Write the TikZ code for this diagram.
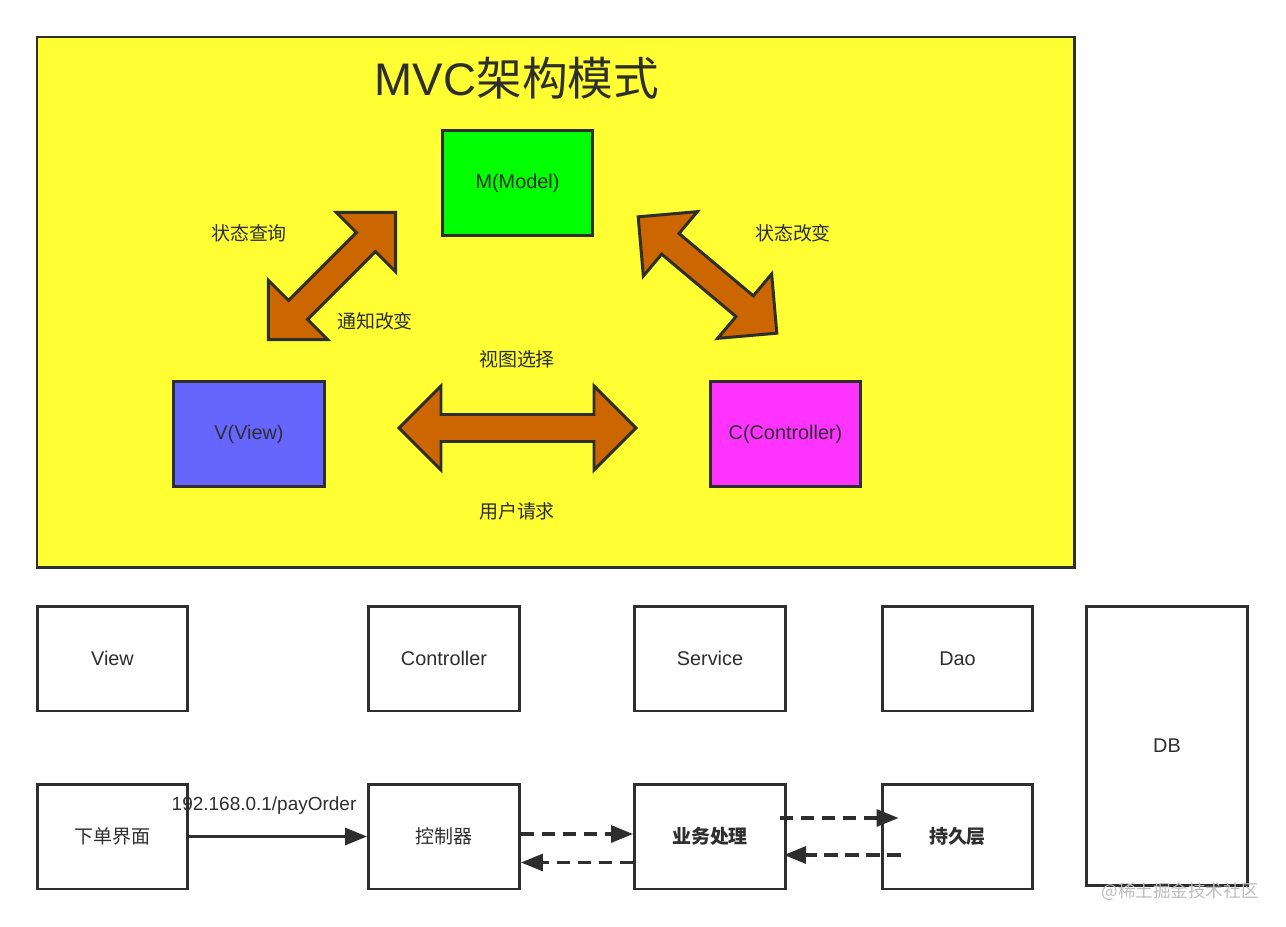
\documentclass[tikz,border=0pt]{standalone}
\usepackage{fontspec}
\setmainfont{Liberation Sans}
\newfontfamily\cjk{Noto Sans CJK SC}
\usetikzlibrary{arrows.meta}
\definecolor{mvcInk}{HTML}{2E2E2E}
\definecolor{mvcYellow}{HTML}{FFFF33}
\definecolor{mvcGreen}{HTML}{00FF00}
\definecolor{mvcBlue}{HTML}{6666FF}
\definecolor{mvcPink}{HTML}{FF33FF}
\definecolor{mvcOrange}{HTML}{CC6600}
\definecolor{mvcMark}{HTML}{BDBDBD}
\tikzset{
  every picture/.style={font=\fontsize{11.3}{13}\selectfont, text=mvcInk},
  mvc frame/.style={draw=mvcInk, line width=1.7pt, fill=mvcYellow},
  mvc box/.style={draw=mvcInk, line width=1.7pt, fill=white, align=center,
    minimum width=3.02cm, minimum height=2.1cm, inner sep=0pt},
  mvc block/.style={draw=mvcInk, line width=1.7pt, fill=mvcOrange, line join=miter},
  mvc label/.style={font=\cjk\fontsize{10.8}{13}\selectfont},
  mvc flow/.style={-{Triangle[length=4.4mm,width=3.4mm]},
    draw=mvcInk, line width=1.8pt},
  mvc call/.style={mvc flow, dash pattern=on 2.7mm off 1.5mm}
}
% double block arrow: centre, angle, half length (px)
\newcommand{\mvcDouble}[3]{%
  \begin{scope}[shift={(#1)}, rotate=#2]
    \draw[mvc block] (-#3,0) -- ({-#3+42},42) -- ({-#3+42},13.5) -- ({#3-42},13.5)
      -- ({#3-42},42) -- (#3,0) -- ({#3-42},-42) -- ({#3-42},-13.5)
      -- ({-#3+42},-13.5) -- ({-#3+42},-42) -- cycle;
  \end{scope}}

\begin{document}
\begin{tikzpicture}[x=0.02cm,y=-0.02cm]
  \useasboundingbox (0,0) rectangle (1286,927);
  % MVC pattern
  \draw[mvc frame] (37,37) rectangle (1074,567);
  \node[font=\fontsize{26}{30}\selectfont] (title) at (517,78) {MVC{\cjk 架构模式}};
  \node[mvc box, fill=mvcGreen] (model) at (517.5,183) {M(Model)};
  \node[mvc box, fill=mvcBlue] (view) at (249,434) {V(View)};
  \node[mvc box, fill=mvcPink] (ctrl) at (785.5,434) {C(Controller)};
  \mvcDouble{332,276}{45}{90}
  \mvcDouble{707.5,275}{-40}{90.5}
  \mvcDouble{517.5,428}{0}{118.5}
  \node[mvc label] (query) at (249,233) {状态查询};
  \node[mvc label] (notify) at (375,321) {通知改变};
  \node[mvc label] (change) at (793,233) {状态改变};
  \node[mvc label] (select) at (517,359) {视图选择};
  \node[mvc label] (request) at (517,511) {用户请求};

  % layers
  \node[mvc box] (viewl) at (112.5,658.5) {View};
  \node[mvc box] (ctrll) at (444,658.5) {Controller};
  \node[mvc box] (svcl) at (710,658.5) {Service};
  \node[mvc box] (daol) at (957.5,658.5) {Dao};
  \node[mvc box, minimum width=3.24cm, minimum height=5.6cm] (db) at (1167,746) {DB};

  % request flow
  \node[mvc box, font=\cjk\fontsize{10.8}{13}\selectfont] (order) at (112.5,836.5) {下单界面};
  \node[mvc box, font=\cjk\fontsize{10.8}{13}\selectfont] (handler) at (444,836.5) {控制器};
  \node[mvc box, font=\cjk\bfseries\fontsize{10.8}{13}\selectfont] (biz) at (710,836.5) {业务处理};
  \node[mvc box, font=\cjk\bfseries\fontsize{10.8}{13}\selectfont] (store) at (957.5,836.5) {持久层};
  \draw[mvc flow] (order.east) -- (handler.west)
    node[pos=0.42, above=3mm, font=\fontsize{10.8}{13}\selectfont] (url) {192.168.0.1/payOrder};
  \draw[mvc call] ([yshift=0.05cm]handler.east) -- ([yshift=0.05cm]biz.west);
  \draw[mvc call] ([yshift=-0.52cm]biz.west) -- ([yshift=-0.52cm]handler.east);
  \draw[mvc call] ([xshift=-0.14cm,yshift=0.37cm]biz.east) -- ([xshift=0.36cm,yshift=0.37cm]store.west);
  \draw[mvc call] ([xshift=0.4cm,yshift=-0.37cm]store.west) -- ([xshift=-0.06cm,yshift=-0.37cm]biz.east);

  \node[font=\cjk\fontsize{10}{12}\selectfont, text=mvcMark] (mark) at (1180,892) {@稀土掘金技术社区};
\end{tikzpicture}
\end{document}
